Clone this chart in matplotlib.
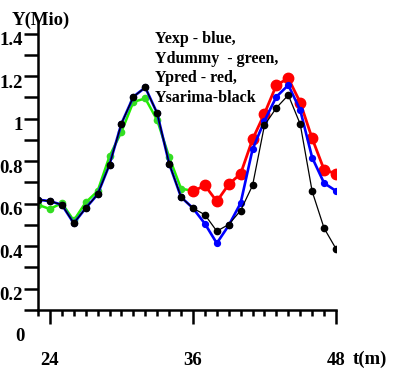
import numpy as np
import matplotlib.pyplot as plt
import matplotlib.transforms as mtransforms

plt.rcParams['font.family'] = ['Liberation Serif', 'DejaVu Serif']
plt.rcParams['font.weight'] = 'bold'

# months
t_all = np.arange(23, 49)
t_dummy = np.arange(23, 37)
t_pred = np.arange(36, 49)

y_exp = [0.619, 0.612, 0.595, 0.508, 0.579, 0.644, 0.784, 0.977, 1.103, 1.147,
         1.025, 0.789, 0.631, 0.579, 0.506, 0.414, 0.498, 0.603, 0.856, 0.990,
         1.103, 1.158, 1.040, 0.817, 0.697, 0.660]
y_sarima = [0.619, 0.612, 0.595, 0.508, 0.579, 0.644, 0.784, 0.977, 1.103, 1.147,
            1.025, 0.789, 0.631, 0.579, 0.548, 0.471, 0.502, 0.568, 0.686, 0.969,
            1.051, 1.111, 0.974, 0.658, 0.485, 0.388]
y_dummy = [0.595, 0.575, 0.603, 0.521, 0.606, 0.659, 0.823, 0.938, 1.079, 1.095,
           0.993, 0.820, 0.671, 0.660]
y_pred = [0.658, 0.686, 0.611, 0.691, 0.741, 0.903, 1.024, 1.158, 1.190, 1.076,
          0.907, 0.760, 0.741]

fig = plt.figure(figsize=(3.93, 3.71), dpi=100)
ax = fig.add_axes([38/393, 1-310/371, 298/393, 287/371])

ax.plot(t_dummy, y_dummy, color='#22ee00', lw=1.8, marker='o', ms=4.5,
        mec='#33dd22', mfc='#33dd22')
ax.plot(t_pred, y_pred, color='#ff0000', lw=2.0, marker='o', ms=7.5)
ax.plot(t_all, y_exp, color='#0000ff', lw=1.9, marker='o', ms=4.2)
ax.plot(t_all, y_sarima, color='black', lw=0.9, marker='o', ms=4.5)

ax.set_xlim(23, 48)
ax.set_ylim(0.1, 1.45)

for s in ['top', 'right']:
    ax.spines[s].set_visible(False)
for s in ['left', 'bottom']:
    ax.spines[s].set_linewidth(1.8)

fs = 13.5
ax.set_yticks(np.arange(0.1, 1.45, 0.1), minor=True)
ax.set_yticks([0.2, 0.4, 0.6, 0.8, 1.0, 1.2, 1.4])
ax.set_yticklabels(['0.2', '0.4', '0.6', '0.8', '1', '1.2', '1.4'])
ax.tick_params(axis='y', which='both', length=10, width=1.8, pad=1,
               labelsize=fs)
ax.set_xticks(np.arange(23, 49), minor=True)
ax.set_xticks([24, 36, 48])
ax.tick_params(axis='x', which='minor', length=4, width=1.8)
ax.tick_params(axis='x', which='major', length=10, width=1.8, pad=20,
               labelsize=fs)

# y labels sit a little under their ticks
off = mtransforms.ScaledTranslation(0, -5/100, fig.dpi_scale_trans)
for lab in ax.get_yticklabels():
    lab.set_transform(lab.get_transform() + off)

ax.text(-0.045, 0.0, '0', transform=mtransforms.blended_transform_factory(ax.transAxes, ax.transData) + off,
        ha='right', va='center', fontsize=fs, fontweight='bold', clip_on=False)

fig.text(12/393, 1-20/371, 'Y(Mio)', ha='left', va='center', fontsize=fs,
         fontweight='bold')
fig.text(370/393, 1-359/371, 't(m)', ha='center', va='center', fontsize=fs,
         fontweight='bold')

fig.text(155/393, 1-31/371,
         'Yexp - blue,\nYdummy  - green,\nYpred - red,\nYsarima-black',
         ha='left', va='top', fontsize=11.5, fontweight='bold', linespacing=1.3)

fig.savefig('out.png', dpi=100)
